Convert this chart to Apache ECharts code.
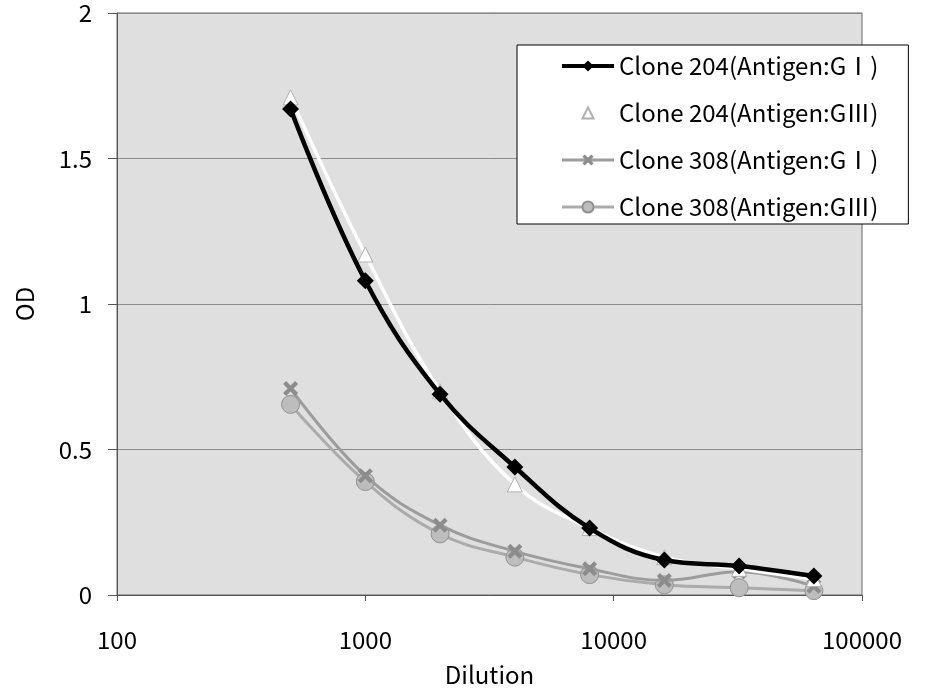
<!DOCTYPE html>
<html>
<head>
<meta charset="utf-8">
<script src="https://cdn.jsdelivr.net/npm/echarts@6/dist/echarts.min.js"></script>
<style>
  html, body { margin: 0; padding: 0; background: #ffffff; }
  #chart { width: 931px; height: 693px; }
</style>
</head>
<body>
<div id="chart"></div>
<script>
// 希釈倍率
var dilutions = [500, 1000, 2000, 4000, 8000, 16000, 32000, 64000]
// OD 値
var clone204G1 = [1.67, 1.08, 0.69, 0.44, 0.23, 0.12, 0.10, 0.065]
var clone204G3 = [1.71, 1.17, 0.70, 0.38, 0.23, 0.13, 0.09, 0.055]
var clone308G1 = [0.71, 0.41, 0.24, 0.15, 0.09, 0.05, 0.08, 0.03]
var clone308G3 = [0.655, 0.39, 0.21, 0.13, 0.07, 0.035, 0.025, 0.015]
var seriesNames = [
  "Clone 204(Antigen:GⅠ)",
  "Clone 204(Antigen:GⅢ)",
  "Clone 308(Antigen:GⅠ)",
  "Clone 308(Antigen:GⅢ)"
]
var xTicks = [100, 1000, 10000, 100000]
var yTicks = [0, 0.5, 1, 1.5, 2]

var font = "Noto Sans CJK JP"
var crossPath = "path://M2,0L5,3L8,0L10,2L7,5L10,8L8,10L5,7L2,10L0,8L3,5L0,2Z"

function pairs(values) {
  return dilutions.map(function (d, i) { return [d, values[i]] })
}

var chart = echarts.init(document.getElementById("chart"))

var option = {
  backgroundColor: "#ffffff",
  animation: false,
  textStyle: { fontFamily: font, color: "#000000" },
  grid: {
    left: 117,
    right: 69,
    top: 13,
    bottom: 98,
    outerBoundsMode: "none",
    containLabel: false,
    show: true,
    backgroundColor: "#dfdfdf",
    borderColor: "#666666",
    borderWidth: 1
  },
  legend: {
    orient: "vertical",
    left: 517,
    top: 45,
    padding: [9, 30, 5, 43],
    backgroundColor: "#ffffff",
    borderColor: "#000000",
    borderWidth: 1,
    itemWidth: 52,
    itemHeight: 14,
    itemGap: 23,
    textStyle: { fontFamily: font, fontSize: 24, lineHeight: 24, color: "#000000" },
    data: [
      { name: seriesNames[0], lineStyle: { width: 4 } },
      { name: seriesNames[1] },
      { name: seriesNames[2], lineStyle: { width: 3 } },
      { name: seriesNames[3], lineStyle: { width: 3 } }
    ]
  },
  xAxis: {
    type: "log",
    logBase: 10,
    min: xTicks[0],
    max: xTicks[xTicks.length - 1],
    name: "Dilution",
    nameLocation: "middle",
    nameGap: 68,
    nameTextStyle: { fontFamily: font, fontSize: 24, color: "#000000" },
    axisLine: { lineStyle: { color: "#555555", width: 1 } },
    axisTick: { show: true, inside: false, length: 6, lineStyle: { color: "#555555" } },
    axisLabel: {
      margin: 33,
      fontFamily: font,
      fontSize: 24,
      color: "#000000",
      formatter: function (v) { return String(Math.round(v)) }
    },
    splitLine: { show: false },
    minorTick: { show: false }
  },
  yAxis: {
    type: "value",
    min: yTicks[0],
    max: yTicks[yTicks.length - 1],
    interval: 0.5,
    name: "OD",
    nameLocation: "middle",
    nameGap: 80,
    nameRotate: 90,
    nameTextStyle: { fontFamily: font, fontSize: 24, color: "#000000" },
    axisLine: { show: true, lineStyle: { color: "#555555", width: 1 } },
    axisTick: { show: true, inside: false, length: 9, lineStyle: { color: "#555555" } },
    axisLabel: { margin: 25, fontFamily: font, fontSize: 24, color: "#000000" },
    splitLine: { show: true, lineStyle: { color: "#8a8a8a", width: 1 } }
  },
  series: [
    {
      name: seriesNames[3],
      type: "line",
      smooth: 0.4,
      data: pairs(clone308G3),
      symbol: "circle",
      symbolSize: 18,
      lineStyle: { color: "#ababab", width: 3 },
      itemStyle: { color: "#bdbdbd", borderColor: "#909090", borderWidth: 1 },
      z: 2
    },
    {
      name: seriesNames[2],
      type: "line",
      smooth: 0.4,
      data: pairs(clone308G1),
      symbol: crossPath,
      symbolSize: 15,
      lineStyle: { color: "#9c9c9c", width: 3 },
      itemStyle: { color: "#8c8c8c" },
      z: 3
    },
    {
      name: seriesNames[1],
      type: "line",
      smooth: 0.4,
      data: pairs(clone204G3),
      symbol: "triangle",
      symbolSize: 15,
      lineStyle: { color: "#ffffff", width: 3.5 },
      itemStyle: { color: "#ffffff", borderColor: "#b0b0b0", borderWidth: 1 },
      z: 4
    },
    {
      name: seriesNames[0],
      type: "line",
      smooth: 0.4,
      data: pairs(clone204G1),
      symbol: "diamond",
      symbolSize: 17,
      lineStyle: { color: "#000000", width: 4.5 },
      itemStyle: { color: "#000000" },
      z: 5
    }
  ]
}

chart.setOption(option)
</script>
</body>
</html>
